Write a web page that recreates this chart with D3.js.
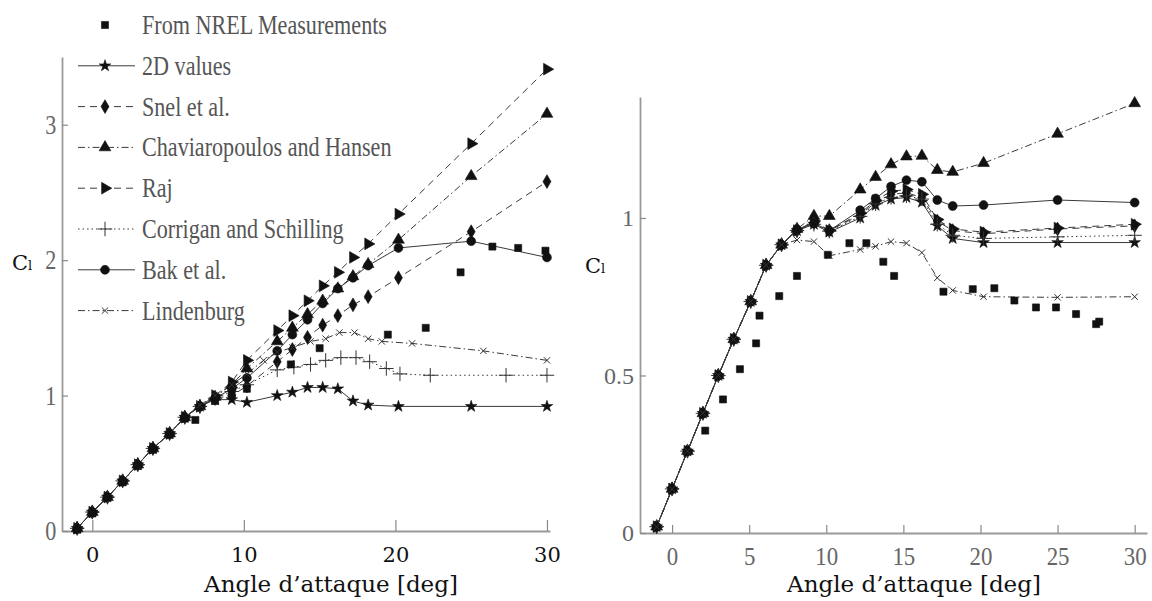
<!DOCTYPE html>
<html>
<head>
<meta charset="utf-8">
<title>Cl vs angle of attack</title>
<script src="https://d3js.org/d3.v7.min.js"></script>
<style>
    body { margin: 0; background: #fff; }
    .curve { fill: none; stroke: #3a3a3a; stroke-width: 1; }
</style>
</head>
<body>
<svg id="chart" width="1152" height="601"></svg>
<script>
// ---- data ----
const seriesNames = ["From NREL Measurements", "2D values", "Snel et al.", "Chaviaropoulos and Hansen",
                     "Raj", "Corrigan and Schilling", "Bak et al.", "Lindenburg"];

// angles where the model curves carry markers
const anglesModel = [-1, 0, 1, 2, 3, 4, 5.1, 6.1, 7.1, 8.1, 9.2, 10.2, 12.2, 13.2, 14.2, 15.2, 16.2, 17.2, 18.2, 20.2, 25, 30];

// left panel
const leftNrelAngles = [-1, 0, 1, 2, 3, 4, 5.1, 6.1, 6.8, 8.1, 9.2, 10.2, 13.1, 15, 19.5, 22, 24.3, 26.4, 28.1, 29.9];
const leftNrel       = [0.01, 0.13, 0.25, 0.36, 0.48, 0.6, 0.71, 0.83, 0.82, 0.96, 1.0, 1.05, 1.23, 1.35, 1.45, 1.5, 1.91, 2.1, 2.09, 2.07];
const left2D    = [0.02, 0.14, 0.25, 0.37, 0.49, 0.61, 0.72, 0.84, 0.92, 0.97, 0.97, 0.95, 1.0, 1.025, 1.06, 1.06, 1.05, 0.96, 0.93, 0.92, 0.92, 0.92];
const leftSnel  = [0.02, 0.14, 0.25, 0.37, 0.49, 0.61, 0.72, 0.84, 0.92, 0.98, 1.0, 1.07, 1.25, 1.34, 1.43, 1.52, 1.59, 1.67, 1.73, 1.87, 2.21, 2.58];
const leftChav  = [0.02, 0.14, 0.25, 0.37, 0.49, 0.61, 0.72, 0.84, 0.92, 0.99, 1.08, 1.2, 1.4, 1.5, 1.6, 1.7, 1.79, 1.88, 1.97, 2.15, 2.62, 3.08];
const leftRaj   = [0.02, 0.14, 0.25, 0.37, 0.49, 0.61, 0.72, 0.84, 0.92, 1.0, 1.1, 1.26, 1.48, 1.59, 1.7, 1.81, 1.91, 2.02, 2.12, 2.34, 2.86, 3.41];
const leftBak   = [0.02, 0.14, 0.25, 0.37, 0.49, 0.61, 0.72, 0.84, 0.92, 0.98, 1.05, 1.13, 1.33, 1.45, 1.56, 1.68, 1.79, 1.87, 1.96, 2.09, 2.14, 2.02];
const leftCorrAngles = [-1, 0, 1, 2, 3, 4, 5.1, 6.1, 7.1, 8.1, 9.2, 10.2, 12.2, 13.3, 14.4, 15.4, 16.4, 17.4, 18.3, 19.4, 20.3, 22.3, 27.3, 30];
const leftCorr       = [0.02, 0.14, 0.25, 0.37, 0.49, 0.61, 0.72, 0.84, 0.92, 0.98, 1.03, 1.08, 1.19, 1.21, 1.23, 1.26, 1.28, 1.28, 1.25, 1.2, 1.16, 1.15, 1.15, 1.15];
const leftLindAngles = [-1, 0, 1, 2, 3, 4, 5.1, 6.1, 7.1, 8.1, 9.2, 10.2, 11.3, 12.2, 13.2, 14.4, 15.4, 16.3, 17.3, 18.2, 19.1, 21.1, 25.8, 30];
const leftLind       = [0.02, 0.14, 0.25, 0.37, 0.49, 0.61, 0.72, 0.84, 0.93, 1.0, 1.08, 1.16, 1.26, 1.32, 1.355, 1.4, 1.42, 1.465, 1.465, 1.42, 1.4, 1.385, 1.33, 1.26];

// right panel
const rightNrelAngles = [2.15, 3.3, 4.4, 5.45, 5.67, 6.95, 8.1, 10.1, 11.5, 12.6, 13.7, 14.4, 17.6, 19.5, 20.9, 22.2, 23.6, 24.9, 26.2, 27.5, 27.7];
const rightNrel       = [0.325, 0.424, 0.52, 0.602, 0.69, 0.752, 0.816, 0.883, 0.92, 0.92, 0.861, 0.816, 0.766, 0.774, 0.777, 0.738, 0.716, 0.716, 0.695, 0.663, 0.671];
const right2D   = [0.02, 0.14, 0.26, 0.38, 0.5, 0.615, 0.735, 0.85, 0.915, 0.96, 0.98, 0.955, 1.0, 1.04, 1.06, 1.065, 1.05, 0.975, 0.935, 0.922, 0.922, 0.922];
const rightSnel = [0.02, 0.14, 0.26, 0.38, 0.5, 0.615, 0.735, 0.85, 0.915, 0.96, 0.985, 0.96, 1.01, 1.05, 1.075, 1.08, 1.065, 0.99, 0.96, 0.95, 0.965, 0.975];
const rightChav = [0.02, 0.14, 0.26, 0.38, 0.5, 0.615, 0.735, 0.85, 0.915, 0.965, 1.006, 1.006, 1.09, 1.13, 1.17, 1.195, 1.197, 1.152, 1.146, 1.174, 1.267, 1.364];
const rightRaj  = [0.02, 0.14, 0.26, 0.38, 0.5, 0.615, 0.735, 0.85, 0.915, 0.96, 0.99, 0.96, 1.015, 1.055, 1.085, 1.09, 1.075, 0.995, 0.965, 0.955, 0.968, 0.98];
const rightCorr = [0.02, 0.14, 0.26, 0.38, 0.5, 0.615, 0.735, 0.85, 0.915, 0.96, 0.98, 0.958, 1.005, 1.045, 1.065, 1.07, 1.06, 0.98, 0.945, 0.935, 0.94, 0.945];
const rightBak  = [0.02, 0.14, 0.26, 0.38, 0.5, 0.615, 0.735, 0.85, 0.915, 0.964, 0.983, 0.96, 1.025, 1.062, 1.1, 1.12, 1.115, 1.057, 1.038, 1.041, 1.057, 1.049];
const rightLind = [0.02, 0.14, 0.26, 0.38, 0.5, 0.615, 0.735, 0.85, 0.915, 0.93, 0.925, 0.88, 0.9, 0.91, 0.925, 0.92, 0.89, 0.81, 0.77, 0.75, 0.748, 0.75];

const leftXTicks = [0, 10, 20, 30];
const leftYTicks = [0, 1, 2, 3];
const rightXTicks = [0, 5, 10, 15, 20, 25, 30];
const rightYTicks = [0, 0.5, 1];
const xTitle = "Angle d\u2019attaque [deg]";

const TIMES = "'Liberation Serif', 'Times New Roman', Times, serif";
const CENTURY = "'DejaVu Serif', serif";

// ---- line / marker styles per series ----
const styles = [
    { sym: "square",   dash: null,          line: false },
    { sym: "star",     dash: null,          line: true },
    { sym: "diamond",  dash: "7,5",         line: true },
    { sym: "triangle", dash: "7,3,1.5,3",   line: true },
    { sym: "right",    dash: "7,5",         line: true },
    { sym: "plus",     dash: "1.5,3",       line: true },
    { sym: "circle",   dash: null,          line: true },
    { sym: "times",    dash: "7,3,1.5,3",   line: true }
];

const plusType = d3.symbolPlus || {
    draw(ctx, size) { const r = Math.sqrt(size) * 0.62; ctx.moveTo(-r, 0); ctx.lineTo(r, 0); ctx.moveTo(0, -r); ctx.lineTo(0, r); }
};
const timesType = d3.symbolTimes || {
    draw(ctx, size) { const r = Math.sqrt(size) * 0.45; ctx.moveTo(-r, -r); ctx.lineTo(r, r); ctx.moveTo(r, -r); ctx.lineTo(-r, r); }
};

function symbolOf(kind) {
    switch (kind) {
        case "square":   return { d: d3.symbol(d3.symbolSquare, 50)(),  fill: true };
        case "star":     return { d: d3.symbol(d3.symbolStar, 42)(),    fill: true };
        case "diamond":  return { d: d3.symbol(d3.symbolDiamond, 55)(), fill: true };
        case "triangle": return { d: d3.symbol(d3.symbolTriangle, 60)(), fill: true };
        case "right":    return { d: d3.symbol(d3.symbolTriangle, 60)(), fill: true, rot: 90 };
        case "circle":   return { d: d3.symbol(d3.symbolCircle, 62)(),  fill: true };
        case "plus":     return { d: d3.symbol(plusType, 70)(),         fill: false };
        case "times":    return { d: d3.symbol(timesType, 28)(),        fill: false };
    }
}

function drawMarker(g, kind, px, py) {
    const s = symbolOf(kind);
    g.append("path")
        .attr("d", s.d)
        .attr("transform", `translate(${px},${py})` + (s.rot ? ` rotate(${s.rot})` : ""))
        .attr("fill", s.fill ? "#111" : "none")
        .attr("stroke", s.fill ? "#111" : "#333")
        .attr("stroke-width", s.fill ? 0.6 : 1);
}

const svg = d3.select("#chart");

function drawPanel(opts) {
    const g = svg.append("g");
    const x = d3.scaleLinear().domain(opts.xDomain).range(opts.xRange);
    const y = d3.scaleLinear().domain(opts.yDomain).range(opts.yRange);

    // axes
    const xAxis = g.append("g")
        .attr("transform", `translate(0,${opts.yRange[0]})`)
        .call(d3.axisBottom(x).tickValues(opts.xTicks).tickSize(-opts.xTickLen).tickSizeOuter(0)
              .tickPadding(opts.xPad).tickFormat(d3.format("d")));
    const yAxis = g.append("g")
        .attr("transform", `translate(${opts.xRange[0]},0)`)
        .call(d3.axisLeft(y).tickValues(opts.yTicks).tickSize(-6).tickSizeOuter(0)
              .tickPadding(opts.yPad).tickFormat(d => String(d)));

    [xAxis, yAxis].forEach(a => {
        a.select(".domain").attr("stroke", "#9a9a9a").attr("stroke-width", 1.8);
        a.selectAll(".tick line").attr("stroke", "#8a8a8a").attr("stroke-width", 1.2);
    });
    xAxis.selectAll("text").style("font-family", opts.xFont).style("font-size", opts.xSize + "px")
        .attr("fill", opts.xColor).attr("transform", `scale(${opts.xScale},1)`);
    yAxis.selectAll("text").style("font-family", TIMES).style("font-size", opts.ySize + "px")
        .attr("fill", "#666").attr("transform", `scale(${opts.yScale},1)`);

    // curves
    const line = d3.line().x(d => x(d[0])).y(d => y(d[1]));
    opts.series.forEach(s => {
        const pts = s.ang.map((a, k) => [a, s.val[k]]);
        const st = styles[s.style];
        if (st.line) {
            g.append("path").attr("class", "curve").attr("d", line(pts))
                .attr("stroke-dasharray", st.dash);
        }
    });
    opts.series.forEach(s => {
        const st = styles[s.style];
        s.ang.forEach((a, k) => drawMarker(g, st.sym, x(a), y(s.val[k])));
    });

    // titles
    g.append("text").attr("x", opts.titleX).attr("y", 592).attr("text-anchor", "middle")
        .style("font-family", CENTURY).style("font-size", "23px").attr("fill", "#111").text(xTitle);
    const cl = g.append("text").attr("x", opts.clX).attr("y", opts.clY)
        .style("font-family", CENTURY).attr("fill", "#111");
    cl.append("tspan").style("font-size", "21px").text("C");
    cl.append("tspan").style("font-size", "13px").text("l");
}

drawPanel({
    xDomain: [-2, 30.2], xRange: [62, 550],
    yDomain: [0, 3.5], yRange: [531, 57],
    xTicks: leftXTicks, yTicks: leftYTicks,
    xTickLen: 11, xPad: 16, yPad: 7,
    xFont: CENTURY, xSize: 21, xColor: "#111", xScale: 1,
    ySize: 27, yScale: 0.82,
    titleX: 331, clX: 12, clY: 270,
    series: [
        { ang: anglesModel, val: left2D, style: 1 },
        { ang: anglesModel, val: leftSnel, style: 2 },
        { ang: anglesModel, val: leftChav, style: 3 },
        { ang: anglesModel, val: leftRaj, style: 4 },
        { ang: leftCorrAngles, val: leftCorr, style: 5 },
        { ang: anglesModel, val: leftBak, style: 6 },
        { ang: leftLindAngles, val: leftLind, style: 7 },
        { ang: leftNrelAngles, val: leftNrel, style: 0 }
    ]
});

drawPanel({
    xDomain: [-2.08, 30.8], xRange: [640, 1147],
    yDomain: [0, 1.384], yRange: [533, 97],
    xTicks: rightXTicks, yTicks: rightYTicks,
    xTickLen: 8, xPad: 14, yPad: 6,
    xFont: TIMES, xSize: 26, xColor: "#666", xScale: 0.88,
    ySize: 24, yScale: 1,
    titleX: 914, clX: 585, clY: 273,
    series: [
        { ang: anglesModel, val: right2D, style: 1 },
        { ang: anglesModel, val: rightSnel, style: 2 },
        { ang: anglesModel, val: rightChav, style: 3 },
        { ang: anglesModel, val: rightRaj, style: 4 },
        { ang: anglesModel, val: rightCorr, style: 5 },
        { ang: anglesModel, val: rightBak, style: 6 },
        { ang: anglesModel, val: rightLind, style: 7 },
        { ang: rightNrelAngles, val: rightNrel, style: 0 }
    ]
});

// legend (top left, over the left panel)
const legend = svg.append("g").selectAll("g")
    .data(seriesNames)
    .enter()
    .append("g")
    .attr("transform", (d, i) => `translate(0,${25 + i * 40.8})`);

legend.each(function(name, i) {
    const row = d3.select(this);
    const st = styles[i];
    if (st.line) {
        row.append("line").attr("x1", 78).attr("x2", 135).attr("y1", 0).attr("y2", 0)
            .attr("stroke", "#3a3a3a").attr("stroke-width", 1).attr("stroke-dasharray", st.dash);
    }
    drawMarker(row, st.sym, 105, 0);
    row.append("text")
        .attr("transform", "translate(142,9) scale(0.82,1)")
        .style("font-family", TIMES).style("font-size", "27px").attr("fill", "#555")
        .text(name);
});
</script>
</body>
</html>
